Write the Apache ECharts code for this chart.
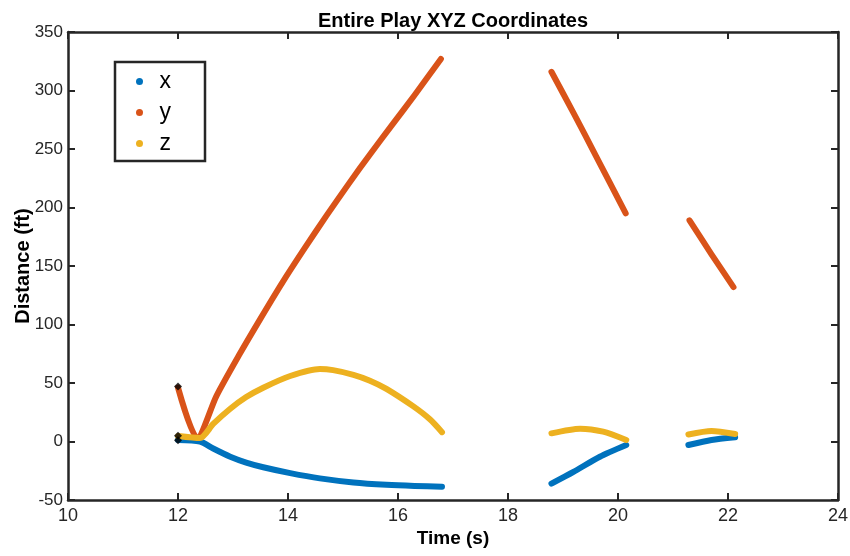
<!DOCTYPE html>
<html>
<head>
<meta charset="utf-8">
<script src="https://cdn.jsdelivr.net/npm/echarts@6/dist/echarts.min.js"></script>
<style>
  html, body { margin: 0; padding: 0; background: #fff; }
  #main { width: 850px; height: 556px; }
</style>
</head>
<body>
<div id="main"></div>
<script>
// time (s) and values (ft); '-' marks a gap between tracked segments
var timeX = [12.0, 12.4, 12.64, 12.95, 13.24, 13.55, 14.04, 14.58, 15.19, 15.79, 16.3, 16.8, 17.8, 18.79, 19.19, 19.67, 20.15, 20.7, 21.28, 21.7, 22.13];
var valX  = [1.3, 0, -6, -13, -18, -22, -27, -31.5, -35, -37, -38, -38.6, '-', -36, -26, -13, -3, '-', -3, 1.3, 3.6];

var timeY = [12.0, 12.35, 12.7, 13.1, 13.5, 13.9, 14.3, 14.7, 15.1, 15.5, 15.9, 16.3, 16.78, 17.8, 18.79, 19.2, 19.6, 20.14, 20.7, 21.3, 21.7, 22.1];
var valY  = [46, 3, 39, 73, 105, 136, 165, 193, 220, 246, 271, 296, 327, '-', 316, 280, 244, 195, '-', 189, 160, 132];

var timeZ = [12.0, 12.4, 12.64, 12.95, 13.24, 13.55, 14.04, 14.58, 14.82, 15.19, 15.49, 15.79, 16.28, 16.58, 16.8, 17.8, 18.79, 19.31, 19.73, 20.15, 20.7, 21.28, 21.7, 22.13];
var valZ  = [4.7, 3, 15, 28, 38, 46, 56, 62, 61, 57, 52, 45, 30, 19, 8, '-', 7, 11, 8.4, 1.3, '-', 6, 9, 6.4];

// black start markers
var startTime = [12.0, 12.0, 12.0];
var startVal  = [47, 5, 1];

var xTicks = [10, 24, 2];
var yTicks = [-50, 350, 50];

function pairs(t, v) {
  return t.map(function (d, i) { return [d, v[i]]; });
}

var axisCol = '#262626';
var font = 'Liberation Sans, Arial, Helvetica, sans-serif';

var myChart = echarts.init(document.getElementById('main'));

function lineSeries(name, color, t, v) {
  return {
    name: name,
    type: 'line',
    color: color,
    showSymbol: false,
    connectNulls: false,
    smooth: 0.25,
    lineStyle: { width: 6, color: color, cap: 'round', join: 'round' },
    itemStyle: { color: color },
    data: pairs(t, v),
    z: 3
  };
}

var axisBase = {
  axisLine: { show: true, onZero: false, lineStyle: { color: axisCol, width: 2.5 } },
  axisTick: { show: true, inside: true, length: 7, lineStyle: { color: axisCol, width: 2 } },
  splitLine: { show: false }
};

var option = {
  animation: false,
  backgroundColor: '#fff',
  title: {
    text: 'Entire Play XYZ Coordinates',
    left: 448,
    textAlign: 'center',
    top: 6,
    textStyle: { fontSize: 20, fontWeight: 'bold', color: '#000', fontFamily: font }
  },
  legend: {
    data: ['x', 'y', 'z'],
    orient: 'vertical',
    left: 115,
    top: 62,
    icon: 'circle',
    itemWidth: 30,
    itemHeight: 7,
    itemGap: 8,
    padding: [8, 34, 6, 21],
    borderColor: '#262626',
    borderWidth: 2.5,
    backgroundColor: '#fff',
    textStyle: { fontSize: 23, lineHeight: 22, color: '#000', fontFamily: font }
  },
  grid: { left: 68, right: 12, top: 32, bottom: 56, outerBoundsMode: 'none' },
  xAxis: [
    Object.assign({
      type: 'value',
      min: xTicks[0], max: xTicks[1], interval: xTicks[2],
      name: 'Time (s)',
      nameLocation: 'middle',
      nameGap: 29,
      nameMoveOverlap: false,
      nameTextStyle: { fontSize: 19, fontWeight: 'bold', color: '#000', fontFamily: font },
      axisLabel: { fontSize: 18, color: axisCol, margin: 7, fontFamily: font }
    }, axisBase),
    Object.assign({
      type: 'value', position: 'top',
      min: xTicks[0], max: xTicks[1], interval: xTicks[2],
      axisLabel: { show: false }
    }, axisBase)
  ],
  yAxis: [
    Object.assign({
      type: 'value',
      min: yTicks[0], max: yTicks[1], interval: yTicks[2],
      name: 'Distance (ft)',
      nameLocation: 'middle',
      nameGap: 35,
      nameMoveOverlap: false,
      nameTextStyle: { fontSize: 20, fontWeight: 'bold', color: '#000', fontFamily: font },
      axisLabel: { fontSize: 17, color: axisCol, margin: 5, fontFamily: font }
    }, axisBase),
    Object.assign({
      type: 'value', position: 'right',
      min: yTicks[0], max: yTicks[1], interval: yTicks[2],
      axisLabel: { show: false }
    }, axisBase)
  ],
  series: [
    lineSeries('x', '#0072BD', timeX, valX),
    lineSeries('y', '#D95319', timeY, valY),
    lineSeries('z', '#EDB120', timeZ, valZ),
    {
      name: 'start',
      type: 'scatter',
      symbol: 'diamond',
      symbolSize: 8,
      itemStyle: { color: '#000' },
      data: pairs(startTime, startVal),
      z: 4
    }
  ]
};

myChart.setOption(option);
</script>
</body>
</html>
